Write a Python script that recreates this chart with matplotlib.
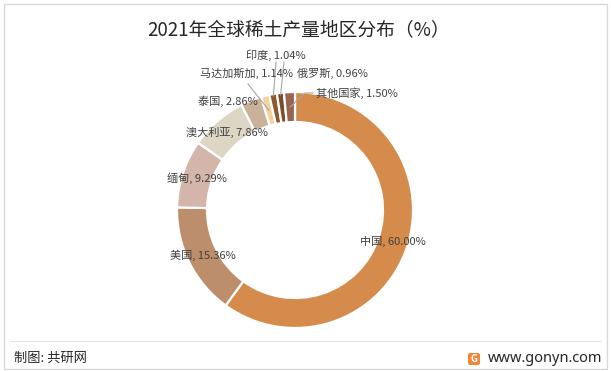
import numpy as np
import matplotlib.pyplot as plt
from matplotlib.patches import Rectangle, FancyBboxPatch

plt.rcParams['font.family'] = ['Noto Sans CJK SC', 'DejaVu Sans']

# 数据
regions = ['中国', '美国', '缅甸', '澳大利亚', '泰国', '马达加斯加', '印度', '俄罗斯', '其他国家']
shares = [60.00, 15.36, 9.29, 7.86, 2.86, 1.14, 1.04, 0.96, 1.50]
colors = ['#D48B4B', '#BD8E6C', '#D3B5A9', '#DDD6C4', '#C9B299',
          '#F4D29B', '#8D592A', '#7C4C2E', '#9B6352']

W, H = 611, 371
CX, CY, R, RING = 295, 210, 118, 30   # 像素坐标 (y 向下)

# 圈外标签: 文字中心, 引线起点, 引线终点半径
outside = {
    '泰国': ((228, 101), None, None),
    '马达加斯加': ((246, 73), (248, 84), 103),
    '印度': ((276, 55), (276, 62), 116),
    '俄罗斯': ((332, 73), (284, 62), 116),
    '其他国家': ((357, 93), (313, 93), 103),
}


def py(y):
    return H - y


fig = plt.figure(figsize=(W / 100, H / 100), dpi=100)
ax = fig.add_axes([0, 0, 1, 1])

ax.pie(shares, colors=colors, startangle=90, counterclock=False,
       center=(CX, py(CY)), radius=R,
       wedgeprops=dict(width=RING, edgecolor='white', linewidth=1.6))
ax.set_xlim(0, W)
ax.set_ylim(0, H)
ax.set_aspect('auto')
ax.axis('off')

# 标签
cum = np.cumsum([0] + shares[:-1])
total = sum(shares)
for name, v, c0 in zip(regions, shares, cum):
    mid = 90 - (c0 + v / 2) / total * 360
    ang = np.deg2rad(mid)
    label = f'{name}, {v:.2f}%'
    if name in outside:
        (tx, ty), start, rr = outside[name]
        ax.text(tx, py(ty), label, ha='center', va='center', fontsize=8, color='#404040')
        if start is not None:
            ex = CX + rr * np.cos(ang)
            ey = CY - rr * np.sin(ang)
            if name == '其他国家':
                ax.plot([start[0], start[0] - 8, ex], [py(start[1]), py(start[1]), py(ey)],
                        color='#A6A6A6', lw=0.8)
            else:
                ax.plot([start[0], ex], [py(start[1]), py(ey)], color='#A6A6A6', lw=0.8)
    else:
        r = R - RING / 2
        ax.text(CX + r * np.cos(ang), py(CY - r * np.sin(ang)), label,
                ha='center', va='center', fontsize=8, color='#404040')

# 标题
ax.text(299, py(30), '2021年全球稀土产量地区分布（%）', ha='center', va='center',
        fontsize=13.5, color='#262626')

# 边框与底部
ax.add_patch(Rectangle((4, py(369)), 603, 365, fill=False, edgecolor='#D9D9D9', lw=1))
ax.plot([10, 600], [py(341), py(341)], color='#E3E3E3', lw=0.8)
ax.text(14, py(358), '制图: 共研网', ha='left', va='center', fontsize=9.5, color='#262626')
ax.add_patch(FancyBboxPatch((468, py(365)), 12, 12, boxstyle='round,pad=0,rounding_size=2',
                            facecolor='#F0873A', edgecolor='none'))
ax.text(474, py(359), 'G', ha='center', va='center', fontsize=7, color='white', fontweight='bold')
ax.text(488, py(358), 'www.gonyn.com', ha='left', va='center', fontsize=10.5, color='#262626',
        family=['Noto Sans', 'DejaVu Sans'])

fig.savefig('out.png', dpi=100)
